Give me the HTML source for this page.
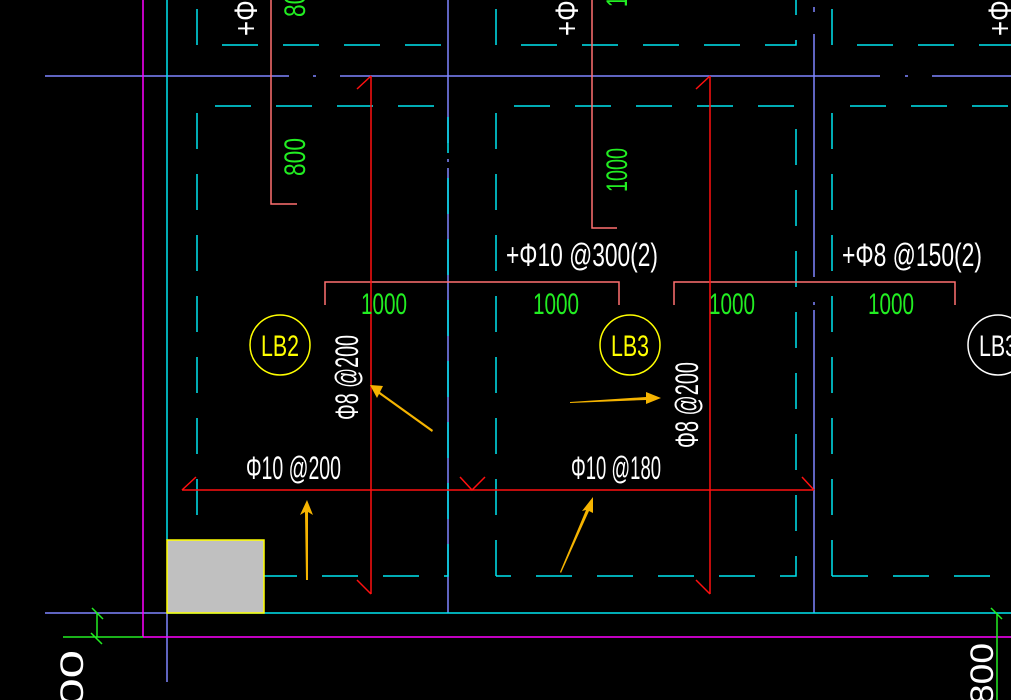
<!DOCTYPE html>
<html><head><meta charset="utf-8"><style>
html,body{margin:0;padding:0;background:#000;}
svg{display:block}
text{font-family:"Liberation Sans",sans-serif;}
</style></head><body>
<svg width="1011" height="700" viewBox="0 0 1011 700" xmlns="http://www.w3.org/2000/svg">
<rect width="1011" height="700" fill="#000"/>
<defs>
<linearGradient id="ga" x1="0" y1="0" x2="1" y2="0"><stop offset="0" stop-color="#f5b400" stop-opacity="0"/><stop offset="0.5" stop-color="#f5b400"/><stop offset="1" stop-color="#ffc000"/></linearGradient>
</defs>
<!-- blue axis lines -->
<g stroke="#7f86ff" stroke-width="1.5" fill="none">
<path d="M45 76H289M340 76H880M932 76H1011"/>
<path d="M313 76h3M905 76h3"/>
<path d="M448 0V143M448 159v3M448 168V613"/>
<path d="M814 7V12M814 34V277M814 302v3M814 310V613"/>
<path d="M45 613H167"/>
<path d="M167 613V682"/>
</g>
<!-- magenta -->
<g stroke="#ff00ff" stroke-width="1.5" fill="none">
<path d="M143 0V637M143 637H1011"/>
</g>
<!-- cyan -->
<g stroke="#00e5f0" stroke-width="1.5" fill="none">
<path d="M167 0V540M167 613H1011"/>
<g stroke-dasharray="36,25">
<path d="M197 9V45H448"/>
<path d="M496 9V45H796V0" />
<path d="M832 9V45H1011"/>
<path d="M197 576V106H448V576H197"/>
<path d="M496 576V106H796V576H496"/>
<path d="M832 576V106H1011"/>
<path d="M832 576H1011"/>
</g>
</g>
<!-- gray box -->
<rect x="167" y="540" width="97" height="73" fill="#c0c0c0" stroke="#ffff00" stroke-width="1.5"/>
<!-- pink lines -->
<g stroke="#ff7070" stroke-width="1.5" fill="none">
<path d="M271 0V204H297"/>
<path d="M592 0V228H617"/>
<path d="M325 305V282H619V305"/>
<path d="M674 305V282H955V305"/>
</g>
<!-- red rebars -->
<g stroke="#ff1010" stroke-width="1.5" fill="none">
<path d="M371 76V594M357 89L371 76M357 580L371 594"/>
<path d="M710 76V594M696 89L710 76M696 580L710 594"/>
<path d="M182 490H814M182 490L196 477M460 477L472 490L485 477M802 477L814 490"/>
</g>
<!-- green dims -->
<g stroke="#22ee22" stroke-width="1.5" fill="none">
<path d="M97 613V637M63 637H143M92 608l11 11M91 633l11 11"/>
<path d="M997 613V700M991 608l11 11"/>
</g>
<g fill="#22ee22" font-size="30">
<text x="384" y="314" text-anchor="middle" textLength="46" lengthAdjust="spacingAndGlyphs">1000</text>
<text x="556" y="314" text-anchor="middle" textLength="46" lengthAdjust="spacingAndGlyphs">1000</text>
<text x="732" y="314" text-anchor="middle" textLength="46" lengthAdjust="spacingAndGlyphs">1000</text>
<text x="891" y="314" text-anchor="middle" textLength="46" lengthAdjust="spacingAndGlyphs">1000</text>
<text transform="translate(305,157) rotate(-90)" text-anchor="middle" textLength="38" lengthAdjust="spacingAndGlyphs">800</text>
<text transform="translate(305,-2) rotate(-90)" text-anchor="middle" textLength="38" lengthAdjust="spacingAndGlyphs">800</text>
<text transform="translate(627,170) rotate(-90)" text-anchor="middle" textLength="44" lengthAdjust="spacingAndGlyphs">1000</text>
<text transform="translate(627,-15) rotate(-90)" text-anchor="middle" textLength="44" lengthAdjust="spacingAndGlyphs">1000</text>
</g>
<!-- white text -->
<g fill="#fff" font-size="32">
<text x="506" y="266" textLength="152" lengthAdjust="spacingAndGlyphs">+Φ10 @300(2)</text>
<text x="842" y="266" textLength="140" lengthAdjust="spacingAndGlyphs">+Φ8 @150(2)</text>
<text x="246" y="479" textLength="95" lengthAdjust="spacingAndGlyphs">Φ10 @200</text>
<text x="571" y="479" textLength="90" lengthAdjust="spacingAndGlyphs">Φ10 @180</text>
<text transform="translate(358,420) rotate(-90)" textLength="85" lengthAdjust="spacingAndGlyphs">Φ8 @200</text>
<text transform="translate(698,448) rotate(-90)" textLength="86" lengthAdjust="spacingAndGlyphs">Φ8 @200</text>
<text transform="translate(83,735) rotate(-90)" textLength="85" lengthAdjust="spacingAndGlyphs">200</text>
<text transform="translate(993,705) rotate(-90)" textLength="62" lengthAdjust="spacingAndGlyphs">800</text>
<text transform="translate(257,36) rotate(-90)" textLength="50" lengthAdjust="spacingAndGlyphs">+Φ8</text>
<text transform="translate(578,36) rotate(-90)" textLength="50" lengthAdjust="spacingAndGlyphs">+Φ8</text>
<text transform="translate(1011,36) rotate(-90)" textLength="50" lengthAdjust="spacingAndGlyphs">+Φ8</text>
</g>
<!-- circles -->
<g fill="none" stroke-width="1.5">
<circle cx="280" cy="345" r="30" stroke="#ffff00"/>
<circle cx="630" cy="345" r="30" stroke="#ffff00"/>
<circle cx="998" cy="345" r="30" stroke="#fff"/>
</g>
<g font-size="30">
<text x="280" y="356" text-anchor="middle" fill="#ffff00" textLength="38" lengthAdjust="spacingAndGlyphs">LB2</text>
<text x="630" y="356" text-anchor="middle" fill="#ffff00" textLength="38" lengthAdjust="spacingAndGlyphs">LB3</text>
<text x="979" y="356" fill="#fff" textLength="38" lengthAdjust="spacingAndGlyphs">LB3</text>
</g>
<!-- orange arrows -->
<g fill="#f5b400">
<polygon points="433,430 380,392 383,386 370,385 377,398 379,394 432,432"/>
<polygon points="306,580 305,512 300,515 307,500 313,515 308,512 308,580" />
<polygon points="570,402 646,397 646,392 661,398 646,404 646,400 570,403"/>
<polygon points="560,572 586,510 582,511 593,497 593,513 589,511 561,573"/>
</g>
</svg>
</body></html>
